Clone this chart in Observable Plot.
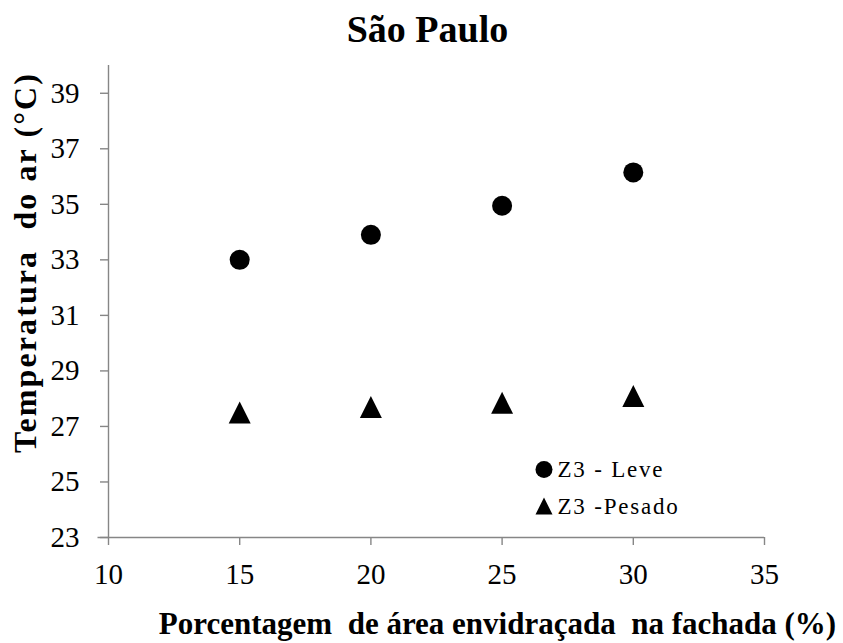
<!DOCTYPE html>
<html>
<head>
<meta charset="utf-8">
<script src="https://cdn.jsdelivr.net/npm/d3@7"></script>
<script src="https://cdn.jsdelivr.net/npm/@observablehq/plot@0.6"></script>
<style>
  body { margin: 0; background: #fff; }
  svg { overflow: visible; }
</style>
</head>
<body>
<div id="chart"></div>
<script>
const title = "São Paulo";
const xLabel = "Porcentagem  de área envidraçada  na fachada (%)";
const yLabel = "Temperatura  do ar (°C)";
const xValues = [15, 20, 25, 30];
const leve = [33.0, 33.9, 34.95, 36.15];
const pesado = [27.5, 27.7, 27.85, 28.1];
const seriesNames = ["Z3 - Leve", "Z3 -Pesado"];
const xTicks = [10, 15, 20, 25, 30, 35];
const yTicks = [23, 25, 27, 29, 31, 33, 35, 37, 39];

const leveData = xValues.map((x, i) => ({x, y: leve[i]}));
const pesadoData = xValues.map((x, i) => ({x, y: pesado[i]}));

const triangle = {
  draw(context, size) {
    const r = Math.sqrt(size / Math.PI);
    context.moveTo(0, -r);
    context.lineTo(r, r);
    context.lineTo(-r, r);
    context.closePath();
  }
};

const serif = "'Liberation Serif', 'Times New Roman', serif";
const axisColor = "#868686";

const chart = Plot.plot({
  width: 843,
  height: 643,
  marginTop: 65,
  marginRight: 79,
  marginBottom: 106,
  marginLeft: 108,
  style: {fontFamily: serif, color: "black", background: "white"},
  x: {domain: [10, 35], ticks: xTicks, label: null},
  y: {domain: [23, 40], ticks: yTicks, label: null},
  marks: [
    Plot.axisX({ticks: xTicks, tickSize: 8, tickPadding: 18, fontSize: 29, fontFamily: serif, stroke: axisColor, strokeWidth: 1.4, label: null}),
    Plot.axisY({ticks: yTicks, tickSize: 8, tickPadding: 21, fontSize: 29, fontFamily: serif, stroke: axisColor, strokeWidth: 1.4, label: null}),
    Plot.ruleX([10], {stroke: axisColor, strokeWidth: 1.4}),
    Plot.ruleY([23], {stroke: axisColor, strokeWidth: 1.4, x1: 9.6, x2: 35}),
    Plot.dot(leveData, {x: "x", y: "y", r: 10, fill: "black", stroke: "none"}),
    Plot.dot(pesadoData, {x: "x", y: "y", r: 11, fill: "black", stroke: "none", symbol: triangle}),
    Plot.text([title], {text: d => d, frameAnchor: "top", textAnchor: "middle", lineAnchor: "bottom", dx: -9, dy: -24, fontSize: 38, fontWeight: "bold", fontFamily: serif}),
    Plot.text([xLabel], {text: d => d, frameAnchor: "bottom", textAnchor: "middle", lineAnchor: "bottom", dx: 61, dy: 96, fontSize: 31, fontWeight: "bold", fontFamily: serif}),
    Plot.text([yLabel], {text: d => d, frameAnchor: "left", textAnchor: "middle", rotate: -90, lineAnchor: "middle", dx: -83, dy: -39, fontSize: 32, fontWeight: "bold", fontFamily: serif}),
    Plot.dot([seriesNames[0]], {frameAnchor: "top-left", dx: 435.5, dy: 404, r: 8.5, fill: "black", stroke: "none"}),
    Plot.dot([seriesNames[1]], {frameAnchor: "top-left", dx: 435.5, dy: 440.5, r: 8.5, fill: "black", stroke: "none", symbol: triangle}),
    Plot.text([seriesNames[0]], {text: d => d, frameAnchor: "top-left", textAnchor: "start", lineAnchor: "middle", dx: 449, dy: 404, fontSize: 23, fontFamily: serif}),
    Plot.text([seriesNames[1]], {text: d => d, frameAnchor: "top-left", textAnchor: "start", lineAnchor: "middle", dx: 449, dy: 441, fontSize: 23, fontFamily: serif})
  ]
});
chart.querySelectorAll("text").forEach(t => {
  if (t.textContent === yLabel) t.style.letterSpacing = "2.1px";
  if (seriesNames.includes(t.textContent)) t.style.letterSpacing = "1.8px";
});
document.getElementById("chart").appendChild(chart);
</script>
</body>
</html>
